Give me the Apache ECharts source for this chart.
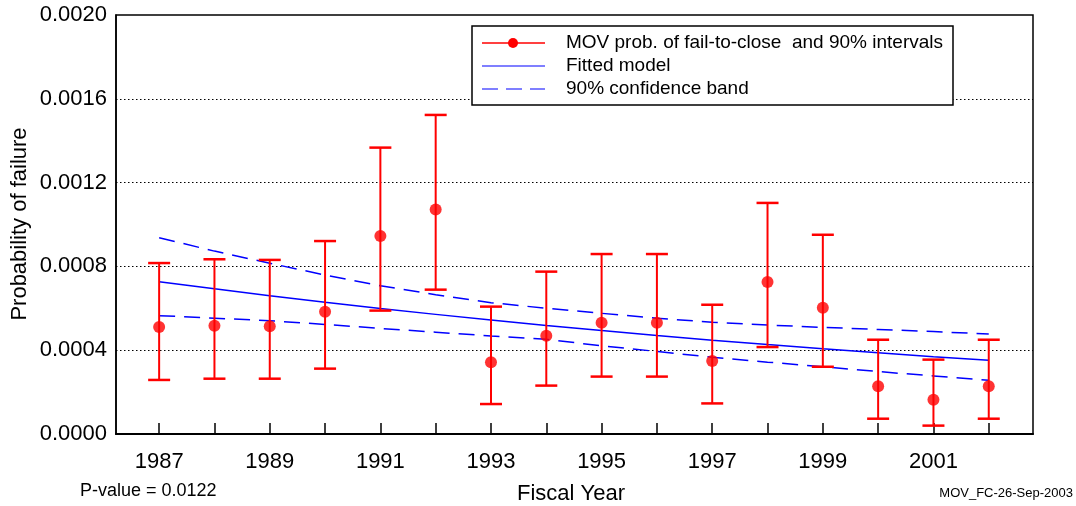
<!DOCTYPE html>
<html>
<head>
<meta charset="utf-8">
<script src="https://cdn.jsdelivr.net/npm/echarts@6/dist/echarts.min.js"></script>
<style>html,body{margin:0;padding:0;background:#fff}#c{width:1076px;height:506px}</style>
</head>
<body>
<div id="c"></div>
<script>
const years = [1987,1988,1989,1990,1991,1992,1993,1994,1995,1996,1997,1998,1999,2000,2001,2002];
const meanProb = [0.000511,0.000517,0.000514,0.000584,0.000945,0.001072,0.000342,0.000469,0.000531,0.000531,0.000348,0.000726,0.000603,0.000228,0.000164,0.000228];
const upper90 = [0.000816,0.000834,0.000831,0.000921,0.001367,0.001523,0.000608,0.000775,0.000859,0.000859,0.000617,0.001103,0.000951,0.000450,0.000355,0.000450];
const lower90 = [0.000258,0.000264,0.000264,0.000312,0.000589,0.000689,0.000143,0.000231,0.000274,0.000274,0.000146,0.000415,0.000321,0.000073,0.000040,0.000073];
const fitted = [0.000727,0.000693,0.000660,0.000629,0.000599,0.000571,0.000544,0.000518,0.000494,0.000470,0.000448,0.000427,0.000407,0.000388,0.000369,0.000352];
const bandUpper = [0.000937,0.000873,0.000815,0.000759,0.000708,0.000665,0.000627,0.000600,0.000576,0.000553,0.000533,0.000520,0.000509,0.000499,0.000489,0.000477];
const bandLower = [0.000565,0.000553,0.000541,0.000523,0.000504,0.000486,0.000468,0.000452,0.000421,0.000394,0.000366,0.000343,0.000321,0.000298,0.000277,0.000256];
const xTickValues = [1987,1988,1989,1990,1991,1992,1993,1994,1995,1996,1997,1998,1999,2000,2001,2002];
const xLabelValues = [1987,1989,1991,1993,1995,1997,1999,2001];
const legendLabels = ['MOV prob. of fail-to-close  and 90% intervals', 'Fitted model', '90% confidence band'];
const xTitle = 'Fiscal Year';
const yTitle = 'Probability of failure';
const pValueText = 'P-value = 0.0122';
const stampText = 'MOV_FC-26-Sep-2003';

const FONT = '"Liberation Sans", Arial, sans-serif';
const chart = echarts.init(document.getElementById('c'), null, {renderer: 'canvas'});

const pair = (arr) => years.map((y, i) => [y, arr[i]]);

const option = {
  animation: false,
  backgroundColor: '#fff',
  grid: {left: 116, right: 43, top: 15, bottom: 72, show: true, borderColor: '#000', borderWidth: 1.5, backgroundColor: 'transparent'},
  xAxis: {
    type: 'value', min: 1986.22, max: 2002.8,
    axisLine: {show: true, lineStyle: {color: '#000', width: 2}},
    axisTick: {show: true, inside: true, length: 11, customValues: xTickValues, lineStyle: {color: '#000', width: 1.5}},
    axisLabel: {show: true, customValues: xLabelValues, formatter: v => String(v), fontFamily: FONT, fontSize: 22, color: '#000', margin: 17},
    splitLine: {show: false}
  },
  yAxis: {
    type: 'value', min: 0, max: 0.002, interval: 0.0004,
    axisLine: {show: true, lineStyle: {color: '#000', width: 1.5}},
    axisTick: {show: false},
    axisLabel: {formatter: v => v.toFixed(4), fontFamily: FONT, fontSize: 22, color: '#000', margin: 9},
    splitLine: {show: true, showMinLine: false, showMaxLine: false, lineStyle: {color: '#000', type: [1.5, 2.5], width: 1.2}}
  },
  series: [
    {
      type: 'line', name: 'Fitted model', data: pair(fitted), showSymbol: false, symbol: 'none',
      lineStyle: {color: '#0000ff', width: 1.5}, z: 3
    },
    {
      type: 'line', name: 'band upper', data: pair(bandUpper), showSymbol: false, symbol: 'none',
      lineStyle: {color: '#0000ff', width: 1.5, type: [16, 9]}, z: 3
    },
    {
      type: 'line', name: 'band lower', data: pair(bandLower), showSymbol: false, symbol: 'none',
      lineStyle: {color: '#0000ff', width: 1.5, type: [16, 9]}, z: 3
    },
    {
      type: 'custom', name: 'intervals',
      data: years.map((y, i) => [y, lower90[i], upper90[i]]),
      encode: {x: 0, y: [1, 2]},
      renderItem: function (params, api) {
        const x = api.value(0);
        const pLo = api.coord([x, api.value(1)]);
        const pHi = api.coord([x, api.value(2)]);
        const hw = 11;
        const st = {stroke: '#ff0000', lineWidth: 2};
        const cs = {stroke: '#ff0000', lineWidth: 2.5};
        return {type: 'group', children: [
          {type: 'line', shape: {x1: pLo[0], y1: pLo[1], x2: pHi[0], y2: pHi[1]}, style: st},
          {type: 'line', shape: {x1: pLo[0] - hw, y1: pLo[1], x2: pLo[0] + hw, y2: pLo[1]}, style: cs},
          {type: 'line', shape: {x1: pHi[0] - hw, y1: pHi[1], x2: pHi[0] + hw, y2: pHi[1]}, style: cs}
        ]};
      },
      z: 4
    },
    {
      type: 'scatter', name: 'MOV prob.', data: pair(meanProb), symbol: 'circle', symbolSize: 12,
      itemStyle: {color: '#ff0000'}, z: 5
    }
  ],
  graphic: [
    {type: 'rect', shape: {x: 472, y: 26, width: 481, height: 79}, style: {fill: '#fff', stroke: '#000', lineWidth: 1.5}, z: 10},
    {type: 'line', shape: {x1: 482, y1: 43, x2: 545, y2: 43}, style: {stroke: '#ff0000', lineWidth: 1.5}, z: 11},
    {type: 'circle', shape: {cx: 513, cy: 43, r: 5}, style: {fill: '#ff0000'}, z: 11},
    {type: 'line', shape: {x1: 482, y1: 66, x2: 545, y2: 66}, style: {stroke: '#0000ff', lineWidth: 1.2}, z: 11},
    {type: 'line', shape: {x1: 482, y1: 89, x2: 545, y2: 89}, style: {stroke: '#0000ff', lineWidth: 1.2, lineDash: [16, 8]}, z: 11},
    {type: 'text', x: 566, y: 43, style: {text: legendLabels[0], font: '19px ' + FONT, fill: '#000', verticalAlign: 'middle', align: 'left'}, z: 11},
    {type: 'text', x: 566, y: 66, style: {text: legendLabels[1], font: '19px ' + FONT, fill: '#000', verticalAlign: 'middle', align: 'left'}, z: 11},
    {type: 'text', x: 566, y: 89, style: {text: legendLabels[2], font: '19px ' + FONT, fill: '#000', verticalAlign: 'middle', align: 'left'}, z: 11},
    {type: 'text', x: 571, y: 494, style: {text: xTitle, font: '22px ' + FONT, fill: '#000', verticalAlign: 'middle', align: 'center'}},
    {type: 'text', x: 20, y: 224, rotation: Math.PI / 2, style: {text: yTitle, font: '22px ' + FONT, fill: '#000', verticalAlign: 'middle', align: 'center'}},
    {type: 'text', x: 80, y: 491, style: {text: pValueText, font: '18px ' + FONT, fill: '#000', verticalAlign: 'middle', align: 'left'}},
    {type: 'text', x: 1073, y: 493, style: {text: stampText, font: '13px ' + FONT, fill: '#000', verticalAlign: 'middle', align: 'right'}}
  ]
};
chart.setOption(option);
</script>
</body>
</html>
